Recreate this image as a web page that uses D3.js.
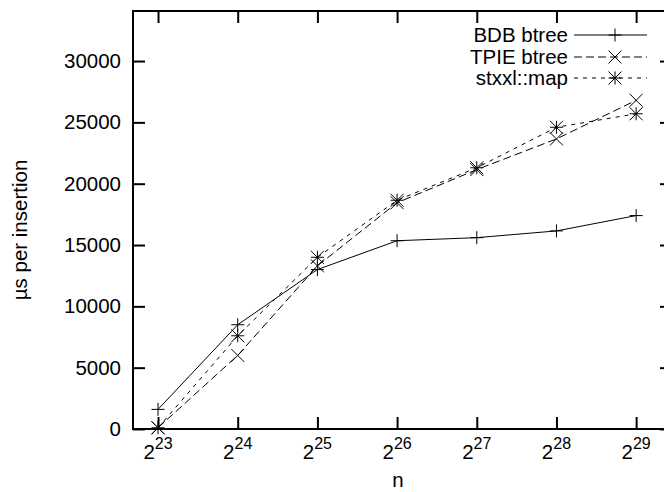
<!DOCTYPE html>
<html>
<head>
	<title>Insertion times</title>
    <script type="text/javascript" src="https://cdnjs.cloudflare.com/ajax/libs/d3/7.8.5/d3.min.js"></script>
    <style>
        body { margin: 0; background: #fff; }
        text { font-family: "Liberation Sans", Arial, sans-serif; fill: #000; }
    </style>
</head>
<body>
</body>

<script type="text/javascript">

// Data (x is the exponent, n = 2^x)
var exponents = [23, 24, 25, 26, 27, 28, 29]
var bdb_btree  = [1600, 8500, 13000, 15350, 15600, 16150, 17400]
var tpie_btree = [100, 6000, 13300, 18450, 21150, 23650, 26800]
var stxxl_map  = [100, 7600, 14000, 18650, 21300, 24600, 25700]
var series_names = ["BDB btree", "TPIE btree", "stxxl::map"]
var y_ticks = [0, 5000, 10000, 15000, 20000, 25000, 30000]

var w = 664,
	h = 492

// plot box in pixels
var box = {left: 133, right: 672, top: 11, bottom: 429}

var svg = d3.select("body").append("svg")
    .attr("width", w)
    .attr("height", h)

var xScale = d3.scaleLinear()
        .domain([22.686, 29.45])
        .range([box.left, box.right])

var yScale = d3.scaleLinear()
        .domain([0, 34080])
        .range([box.bottom, box.top])

var tick_len = 12

// y axis ticks (left and mirrored on right)
svg.append("g")
    .attr("transform", "translate(" + box.left + ",0)")
    .call(d3.axisLeft(yScale).tickValues(y_ticks).tickSize(-tick_len).tickPadding(12).tickFormat(d3.format("d")))
    .call(function(g){ g.select(".domain").remove() })
    .call(function(g){
        g.selectAll("line").attr("stroke-width", 2)
        g.selectAll("text").attr("font-size", 20.5).attr("font-family", null)
    })

svg.append("g")
    .attr("transform", "translate(" + box.right + ",0)")
    .call(d3.axisRight(yScale).tickValues(y_ticks).tickSize(-tick_len).tickFormat(""))
    .call(function(g){ g.select(".domain").remove() })
    .call(function(g){ g.selectAll("line").attr("stroke-width", 2) })

// x axis ticks bottom and top
svg.append("g")
    .attr("transform", "translate(0," + box.bottom + ")")
    .call(d3.axisBottom(xScale).tickValues(exponents).tickSize(-tick_len).tickFormat(""))
    .call(function(g){ g.select(".domain").remove() })
    .call(function(g){ g.selectAll("line").attr("stroke-width", 2) })

svg.append("g")
    .attr("transform", "translate(0," + box.top + ")")
    .call(d3.axisTop(xScale).tickValues(exponents).tickSize(-tick_len).tickFormat(""))
    .call(function(g){ g.select(".domain").remove() })
    .call(function(g){ g.selectAll("line").attr("stroke-width", 2) })

// x tick labels as 2^k
var xlabels = svg.selectAll(".xlab")
    .data(exponents)
    .enter()
    .append("text")
    .attr("class", "xlab")
    .attr("text-anchor", "middle")
    .attr("x", function(d){ return xScale(d) })
    .attr("y", 459)
    .attr("font-size", 20.5)

xlabels.append("tspan").text("2")
xlabels.append("tspan")
    .attr("dy", -10)
    .attr("font-size", 16)
    .text(function(d){ return d })

// plot frame
svg.append("rect")
    .attr("x", box.left)
    .attr("y", box.top)
    .attr("width", box.right - box.left)
    .attr("height", box.bottom - box.top)
    .style("fill", "none")
    .style("stroke", "#000")
    .style("stroke-width", 2)

// axis titles
svg.append("text")
    .attr("x", 398)
    .attr("y", 487)
    .attr("text-anchor", "middle")
    .attr("font-size", 20.5)
    .text("n")

svg.append("text")
    .attr("transform", "translate(27,230) rotate(-90)")
    .attr("text-anchor", "middle")
    .attr("font-size", 20.5)
    .text("µs per insertion")

// series
var all_series = [bdb_btree, tpie_btree, stxxl_map]
var dashes = [null, "8,4", "4,5"]
var marks = ["plus", "cross", "star"]
var m = 6.5

function drawMark(g, kind, x, y) {
    var p = d3.path()
    if (kind == "plus" || kind == "star") {
        p.moveTo(x - m, y); p.lineTo(x + m, y)
        p.moveTo(x, y - m); p.lineTo(x, y + m)
    }
    if (kind == "cross" || kind == "star") {
        p.moveTo(x - m, y - m); p.lineTo(x + m, y + m)
        p.moveTo(x - m, y + m); p.lineTo(x + m, y - m)
    }
    g.append("path")
        .attr("d", p.toString())
        .style("stroke", "#000")
        .style("stroke-width", 1)
        .style("fill", "none")
}

var line = d3.line()
    .x(function(d, i){ return xScale(exponents[i]) })
    .y(function(d){ return yScale(d) })

all_series.forEach(function(vals, s){
    var g = svg.append("g")
    g.append("path")
        .attr("d", line(vals))
        .style("fill", "none")
        .style("stroke", "#000")
        .style("stroke-width", 1)
        .style("stroke-dasharray", dashes[s])
    vals.forEach(function(v, i){
        drawMark(g, marks[s], xScale(exponents[i]), yScale(v))
    })
})

// legend
var leg_y = [35, 57, 78]
series_names.forEach(function(name, s){
    var g = svg.append("g")
    g.append("text")
        .attr("x", 568)
        .attr("y", leg_y[s])
        .attr("dy", "0.35em")
        .attr("text-anchor", "end")
        .attr("font-size", 20.5)
        .text(name)
    g.append("line")
        .attr("x1", 574)
        .attr("x2", 647)
        .attr("y1", leg_y[s])
        .attr("y2", leg_y[s])
        .style("stroke", "#000")
        .style("stroke-width", 1)
        .style("stroke-dasharray", dashes[s])
    drawMark(g, marks[s], 615, leg_y[s])
})

</script>

</html>
